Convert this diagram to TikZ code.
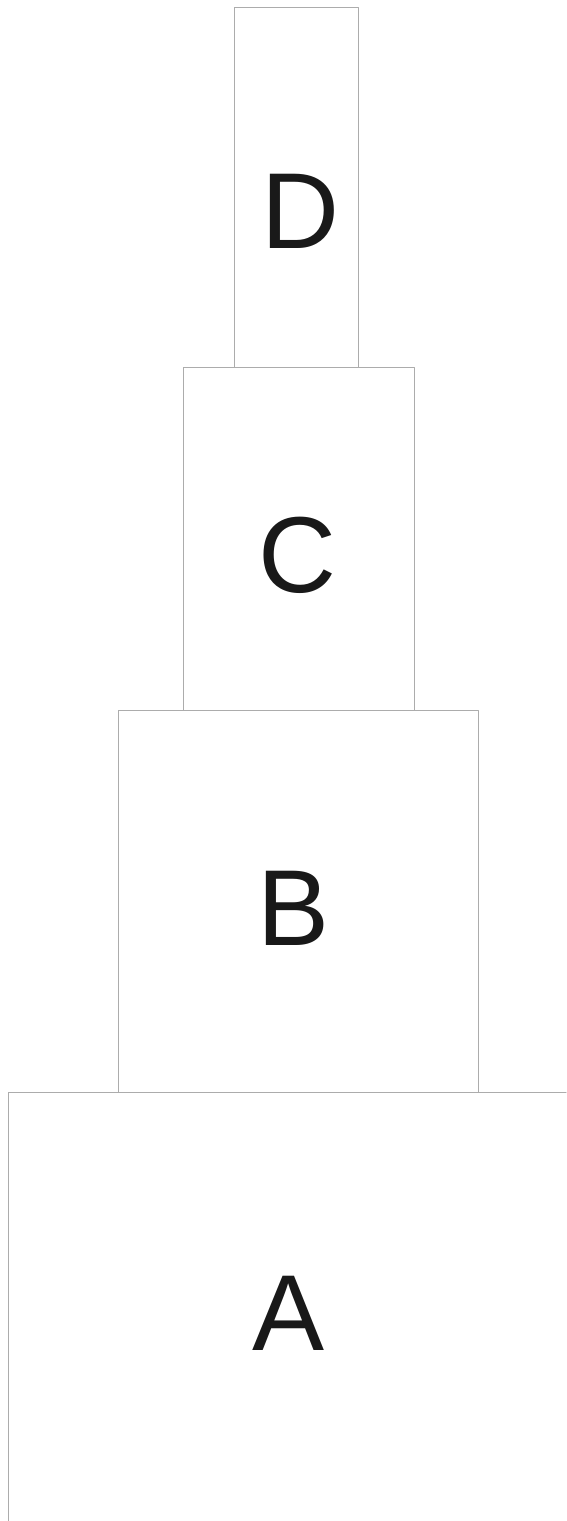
\documentclass[tikz,border=0pt]{standalone}
\usepackage{fontspec}
\setmainfont{Liberation Sans}
\usetikzlibrary{positioning}

\begin{document}
\begin{tikzpicture}[x=1pt,y=-1pt,line join=round,line cap=round,
    block/.style={draw=gray!65,line width=1pt},
    letter/.style={anchor=base,inner sep=0pt,font=\fontsize{108}{120}\selectfont,text=black!90}]
        \useasboundingbox (0,0) rectangle (566,1521);
        % blocks, from the top
        \draw[block] (234,7) rectangle (358,367);
        \draw[block] (183,367) rectangle (414,710);
        \draw[block] (118,710) rectangle (478,1092);
        \draw[block] (8,1521) -- (8,1092) -- (566,1092);
        % labels
        \node[letter] (D) at (300,248) {D};
        \node[letter] (C) at (297,592) {C};
        \node[letter] (B) at (294,945) {B};
        \node[letter] (A) at (289,1350) {A};
\end{tikzpicture}
\end{document}
